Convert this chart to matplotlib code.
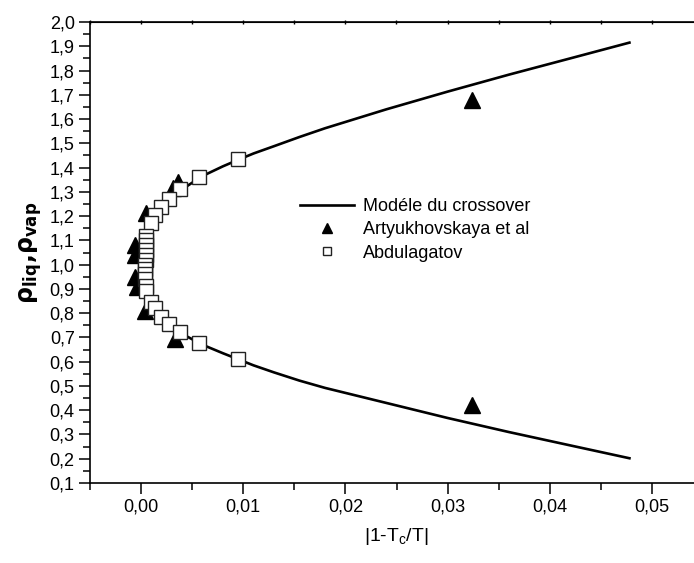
import matplotlib
matplotlib.use("Agg")
import matplotlib.pyplot as plt
from matplotlib.ticker import MultipleLocator, FuncFormatter

plt.rcParams['font.family'] = ['Liberation Sans', 'DejaVu Sans']

# crossover model curve
model_t = [0.0, 0.00005, 0.0002, 0.0005, 0.001, 0.002, 0.003, 0.004, 0.006,
           0.008, 0.0095, 0.011, 0.013, 0.0155, 0.018, 0.024, 0.030, 0.036, 0.042, 0.0478]
model_liq = [1.0, 1.06, 1.10, 1.13, 1.17, 1.235, 1.275, 1.31, 1.365,
             1.405, 1.432, 1.458, 1.488, 1.526, 1.562, 1.640, 1.713, 1.783, 1.850, 1.915]
model_vap = [1.0, 0.94, 0.90, 0.87, 0.835, 0.78, 0.745, 0.715, 0.67,
             0.635, 0.61, 0.585, 0.556, 0.522, 0.492, 0.430, 0.368, 0.310, 0.255, 0.202]

# Artyukhovskaya et al
art_t = [0.0036, 0.0031, 0.0005, -0.0006, -0.0006, -0.0006, -0.0004,
         0.0004, 0.0033, 0.0324, 0.0324]
art_rho = [1.342, 1.315, 1.212, 1.08, 1.04, 0.95, 0.909,
           0.81, 0.692, 1.68, 0.421]

# Abdulagatov
abd_t = [0.00947, 0.00564, 0.00385, 0.00277, 0.00198, 0.00139, 0.0010,
         0.0005, 0.0005, 0.0005, 0.0005, 0.0005, 0.0005, 0.0004, 0.0004,
         0.0004, 0.0004, 0.0005, 0.0005,
         0.0010, 0.00139, 0.00198, 0.00277, 0.00385, 0.00564, 0.00947]
abd_rho = [1.434, 1.363, 1.311, 1.269, 1.236, 1.203, 1.170,
           1.12, 1.10, 1.08, 1.06, 1.04, 1.02, 1.00, 0.98,
           0.96, 0.94, 0.91, 0.89,
           0.847, 0.820, 0.783, 0.755, 0.721, 0.678, 0.611]

W, H = 694, 563
fig = plt.figure(figsize=(W / 100, H / 100), dpi=100)
left, right, top, bottom = 90, 703, 22, 483
ax = fig.add_axes([left / W, (H - bottom) / H, (right - left) / W, (bottom - top) / H])

ax.plot(model_t, model_liq, color='black', lw=1.9, zorder=2,
        label='Modéle du crossover')
ax.plot(model_t, model_vap, color='black', lw=1.9, zorder=2)
ax.plot(art_t, art_rho, ls='none', marker='^', ms=12, color='black', zorder=3,
        label='Artyukhovskaya et al')
ax.plot(abd_t, abd_rho, ls='none', marker='s', ms=9.5, mfc='white', mec='#222222',
        mew=1.0, zorder=4, label='Abdulagatov')

ax.set_xlim(-0.005, 0.055)
ax.set_ylim(0.1, 2.0)
ax.xaxis.set_major_locator(MultipleLocator(0.01))
ax.xaxis.set_minor_locator(MultipleLocator(0.005))
ax.yaxis.set_major_locator(MultipleLocator(0.1))
ax.yaxis.set_minor_locator(MultipleLocator(0.05))
ax.xaxis.set_major_formatter(FuncFormatter(lambda v, p: f"{v:.2f}".replace('.', ',').replace('-0,00', '0,00')))
ax.yaxis.set_major_formatter(FuncFormatter(lambda v, p: f"{v:.1f}".replace('.', ',')))
ax.tick_params(which='major', direction='out', length=8, width=1.1, labelsize=13, pad=3)
ax.tick_params(which='minor', direction='out', length=5, width=1.1)
for s in ax.spines.values():
    s.set_linewidth(1.2)

sec = ax.secondary_xaxis('top')
sec.xaxis.set_major_locator(MultipleLocator(0.01))
sec.xaxis.set_minor_locator(MultipleLocator(0.005))
sec.tick_params(which='both', direction='inout', length=3, width=1, labeltop=False)

ax.set_xlabel(r'|1-T$_{\mathregular{c}}$/T|', fontsize=14, labelpad=8)
ax.set_ylabel(r'$\mathbf{\rho_{liq}{,}\rho_{vap}}$', fontsize=17, labelpad=4)

ax.legend(loc='upper left', bbox_to_anchor=(300 / W, 1 - 198 / H),
          bbox_transform=fig.transFigure, frameon=False, fontsize=13,
          handlelength=3.0, handletextpad=0.5, labelspacing=0.35,
          borderpad=0, borderaxespad=0, markerscale=0.65, numpoints=1)

fig.savefig('out.png', dpi=100)
